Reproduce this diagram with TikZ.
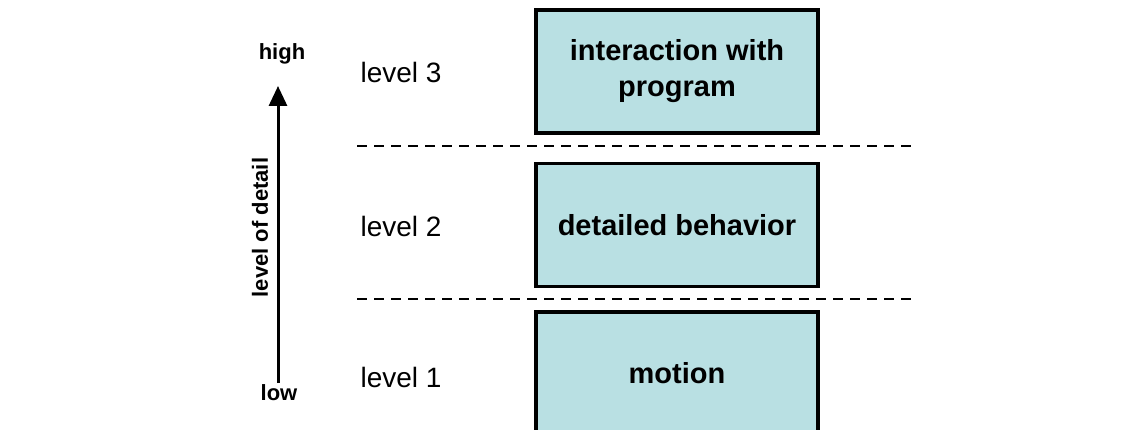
\documentclass[tikz,border=0pt]{standalone}
\usepackage{fontspec}
\setmainfont{Liberation Sans}
\usetikzlibrary{arrows.meta, positioning}
\definecolor{boxfill}{RGB}{185,224,227}
\tikzset{
	x=1pt, y=-1pt, % work in pixels of the original figure
	layer/.style={draw, line width=3.5pt, fill=boxfill, minimum width=282pt, minimum height=123pt, align=center, font=\fontsize{29}{36}\selectfont\bfseries}, % the three boxes
	lvl/.style={anchor=west, font=\fontsize{28}{32}\selectfont}, % level 1..3 labels
	tag/.style={font=\fontsize{22}{26}\selectfont\bfseries}, % high / low
	sep/.style={dash pattern=on 10pt off 7pt, line width=2.5pt}, % separators between levels
	axis/.style={line width=3pt, -{Triangle[length=20pt,width=18pt]}},
}
\begin{document}
\begin{tikzpicture}
	\useasboundingbox (0,0) rectangle (1145,430);
	\node[layer] (prog) at (677,71.5) {interaction with\\program};
	\node[layer] (behav) at (677,225) {detailed behavior};
	\node[layer] (mot) at (677,373.5) {motion};

	\node[lvl] (l3) at (357,72) {level 3};
	\node[lvl] (l2) at (357,226) {level 2};
	\node[lvl] (l1) at (357,377) {level 1};

	\coordinate (s1a) at (357,146);
	\coordinate (s1b) at (915,146);
	\coordinate (s2a) at (357,299);
	\coordinate (s2b) at (915,299);
	\draw[sep] (s1a) -- (s1b);
	\draw[sep] (s2a) -- (s2b);

	\node[tag] (high) at (282,54) {high};
	\node[tag] (low) at (279,393) {low};
	\coordinate (axbot) at (278,383);
	\coordinate (axtop) at (278,86);
	\draw[axis] (axbot) -- (axtop) node[tag, midway, sloped, above=5pt, xshift=7pt] (lod) {level of detail};
\end{tikzpicture}
\end{document}
